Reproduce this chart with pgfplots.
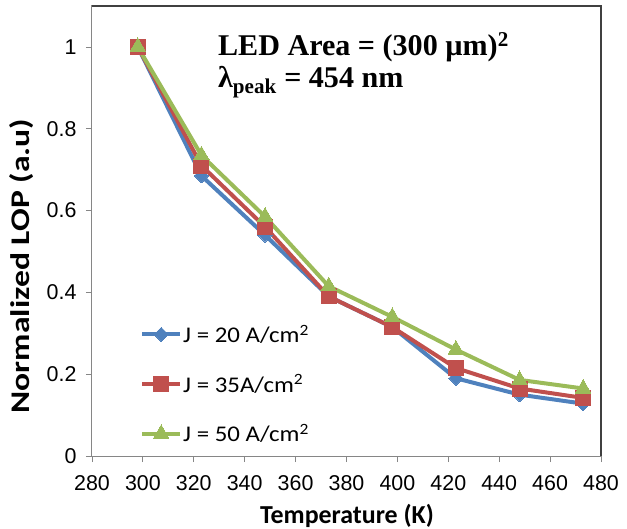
\documentclass[border=0pt]{standalone}
\usepackage{pgfplots}
\pgfplotsset{compat=1.18}
\usepackage{fontspec}
\setmainfont{Liberation Sans}
\newfontfamily\carlito{Carlito}
\newfontfamily\ylabfont[FakeStretch=1.25]{Carlito}
\newfontfamily\legfont[FakeStretch=1.11]{Carlito}
\newfontfamily\tnr{Liberation Serif}
\definecolor{cblue}{HTML}{4F81BD}
\definecolor{cred}{HTML}{C0504D}
\definecolor{cgreen}{HTML}{9BBB59}
\definecolor{axgray}{HTML}{868686}
\definecolor{axdark}{HTML}{404040}
\begin{document}
\begin{tikzpicture}[x=1bp,y=1bp]
\begin{axis}[
  scale only axis,
  width=509bp, height=450bp,
  xmin=280, xmax=480, ymin=0, ymax=1.1,
  xtick={280,300,...,480},
  ytick={0,0.2,0.4,0.6,0.8,1},
  tick pos=left,
  tick align=outside,
  major tick length=6bp,
  tick style={axgray, line width=0.8bp},
  axis line style={axgray, line width=1bp},
  /pgf/number format/assume math mode=true,
  ticklabel style={font=\fontsize{21.5}{24}\selectfont},
  xticklabel style={anchor=base, yshift=-28bp},
  yticklabel style={anchor=east, xshift=-6bp},
  xlabel={\carlito\bfseries Temperature (K)},
  ylabel={\ylabfont\bfseries Normalized LOP (a.u)},
  xlabel style={font=\fontsize{26}{30}\selectfont, at={(axis description cs:0.501,-0.149)}, anchor=base},
  ylabel style={font=\fontsize{27}{32}\selectfont, at={(axis description cs:-0.1375,0.422)}, anchor=center},
  legend style={draw=none, fill=none, at={(axis description cs:0.0943,0.294)}, anchor=north west,
    font=\legfont\fontsize{22.5}{25}\selectfont, row sep=28.5bp, inner sep=0pt,
    nodes={inner sep=1bp}},
  legend cell align=left,
  legend image code/.code={
    \draw[#1, mark=none] (0bp,0bp) -- (38bp,0bp);
    \path[#1, line width=0pt] plot coordinates {(19bp,0bp)};
  },
  every axis plot/.append style={line width=4bp},
  after end axis/.code={
    \draw[axdark, line width=1.5bp] (rel axis cs:0,1) -- (rel axis cs:1,1) -- (rel axis cs:1,0);
  },
]
\addplot[cblue, mark=square*, mark size=5bp, mark options={fill=cblue, draw=cblue, line width=0pt, rotate=45}]
  coordinates {(298,1) (323,0.685) (348,0.54) (373,0.39) (398,0.315) (423,0.19) (448,0.15) (473,0.128)};
\addlegendentry{J = 20 A/cm\textsuperscript{2}}
\addplot[cred, mark=square*, mark size=7.5bp, mark options={fill=cred, draw=cred, line width=0pt}]
  coordinates {(298,1) (323,0.71) (348,0.56) (373,0.39) (398,0.315) (423,0.215) (448,0.165) (473,0.142)};
\addlegendentry{J = 35A/cm\textsuperscript{2}}
\addplot[cgreen, mark=triangle*, mark size=9bp, mark options={fill=cgreen, draw=cgreen, line width=0pt}]
  coordinates {(298,1) (323,0.735) (348,0.585) (373,0.415) (398,0.34) (423,0.26) (448,0.186) (473,0.165)};
\addlegendentry{J = 50 A/cm\textsuperscript{2}}
\node[anchor=base west, inner sep=0pt, font=\tnr\bfseries\fontsize{30.2}{34}\selectfont]
  at (axis description cs:0.2475,0.891) {LED Area = (300 µm)\textsuperscript{2}};
\node[anchor=base west, inner sep=0pt, font=\tnr\bfseries\fontsize{30.2}{34}\selectfont]
  at (axis description cs:0.2475,0.818) {λ\textsubscript{peak} = 454 nm};
\end{axis}
\pgfresetboundingbox
\useasboundingbox (-92bp,-73bp) rectangle (535bp,456bp);
\end{tikzpicture}
\end{document}
